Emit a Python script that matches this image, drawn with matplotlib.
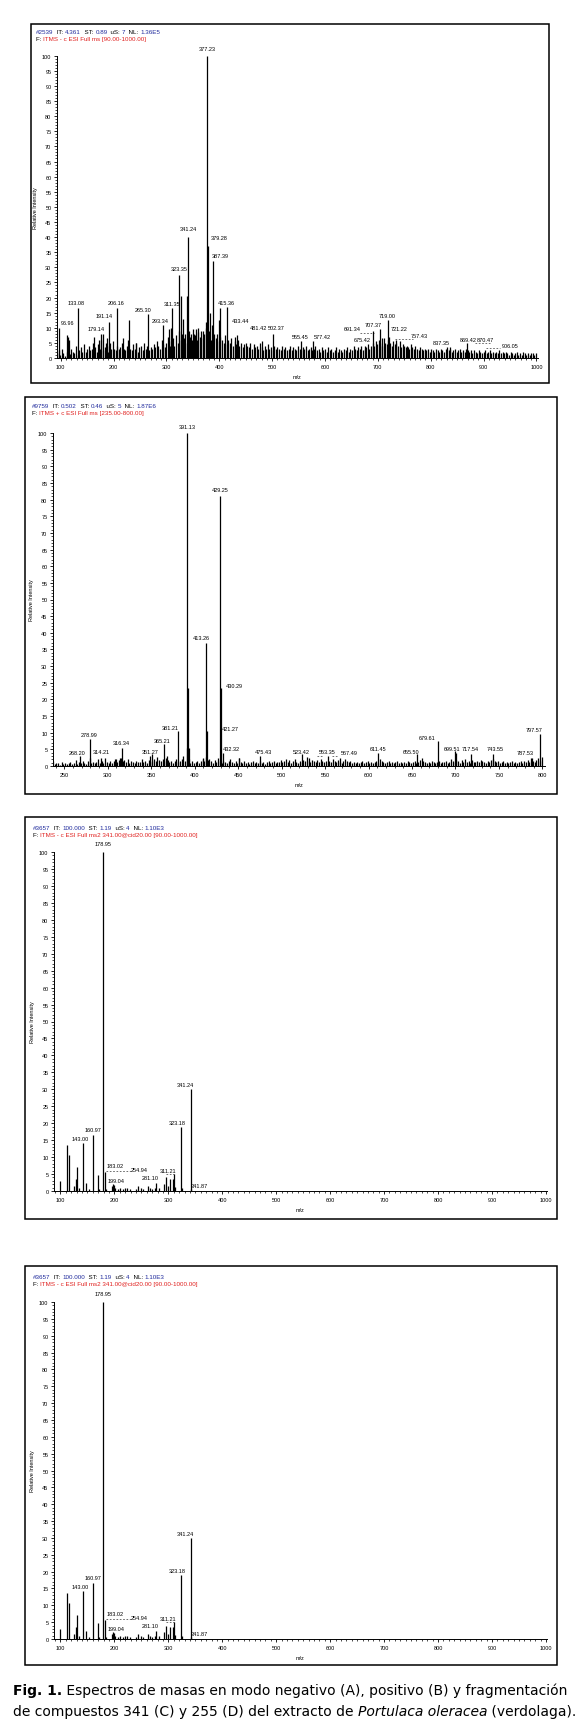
import numpy as np
import matplotlib.pyplot as plt
from matplotlib.patches import Rectangle
from matplotlib.ticker import MultipleLocator

plt.rcParams['font.family'] = ['Liberation Sans', 'DejaVu Sans']

W, H = 585, 1731
SMALL = 4.0
HEAD = 4.5
BLUE = "#1f2a9c"
RED = "#e0201e"

# ---------------- A : ESI negative, full scan ----------------
a_head1 = [("#2539", BLUE), ("  IT: ", "k"), ("4.361", BLUE), ("  ST: ", "k"), ("0.89", BLUE),
           ("  uS: ", "k"), ("7", BLUE), ("  NL: ", "k"), ("1.36E5", BLUE)]
a_head2 = [("F: ", "k"), ("ITMS - c ESI Full ms [90.00-1000.00]", RED)]
# baseline grass, one value every 3 m/z starting at 93
a_noise_start, a_noise_step = 93, 3
a_noise = [1.5, 2.5, 1, 3, 1.5, 0.8, 2, 7, 1.2, 3, 2, 1.5, 4, 1, 2.5, 3.5, 2, 4.5, 2, 3,
           4, 2.5, 3, 5, 3.5, 2, 4.5, 3, 6, 2.5, 3.5, 5, 2, 4, 3, 5.5, 3, 2.5, 4, 3,
           3.5, 5, 3, 2.5, 4, 6, 3, 2.5, 4.5, 3, 5, 2, 3.5, 4, 2.5, 5, 3, 4, 2.5, 3.5,
           3, 4.5, 3.5, 5.5, 4, 3, 6, 4.5, 3.5, 5, 7, 4, 5.5, 6.5, 4, 7.5, 5, 9, 6, 8,
           6.5, 8, 5, 9, 7, 6, 9.5, 7.5, 6, 8.5, 7, 9, 6.5, 8, 10, 7, 9, 6, 11, 8,
           6.5, 8, 5.5, 7, 6, 5, 7.5, 4.5, 6, 5, 6.5, 4, 5.5, 4.5, 6, 4, 5, 3.5, 4.5, 5,
           4, 3.5, 5, 3, 4.5, 3.5, 4, 3, 5, 3.5, 2.5, 4, 3, 4.5, 3, 3.5, 2.5, 4, 3, 3.5,
           3, 2.5, 4, 3, 3.5, 2.5, 3, 4, 2.5, 3.5, 3, 2.5, 4, 3, 2.5, 3.5, 3, 4, 2.5, 3,
           3.5, 2.5, 3, 4, 2.5, 3, 2, 3.5, 2.5, 3, 2, 3.5, 2.5, 3, 2, 2.5, 3.5, 2, 3, 2.5,
           2, 3, 2.5, 3.5, 2, 3, 2.5, 4, 3, 2.5, 3.5, 3, 4, 2.5, 3, 3.5, 4.5, 3, 4, 5,
           4, 5.5, 4.5, 6, 5, 4, 6.5, 5, 4.5, 6, 5, 4, 5.5, 4.5, 5, 4, 5.5, 3.5, 4.5, 4,
           3.5, 4, 3, 4.5, 3.5, 3, 4, 3, 2.5, 3.5, 3, 2.5, 3, 2.5, 3, 2, 3, 2.5, 2, 3,
           2.5, 2, 3, 2.5, 2, 3, 3.5, 2.5, 3, 2, 2.5, 3, 2, 2.5, 3, 2, 2.5, 2, 3, 2.5,
           2, 2.5, 1.5, 2.5, 2, 1.5, 2.5, 2, 1.5, 2, 2.5, 1.5, 2, 2.5, 1.5, 2, 1.5, 2, 1.5, 2.5,
           1.5, 2, 1.5, 2, 1.5, 1, 2, 1.5, 1, 1.5, 2, 1, 1.5, 1, 2, 1.5, 1, 1.5, 1, 1.5,
           1.5, 1, 1.5]
a_mz = [96.96, 111, 115, 133.08, 163, 172, 176, 179.14, 188, 191.14, 193, 206.16, 217, 229,
        243, 265.30, 293.34, 305, 308, 311.35, 323.35, 327, 331, 338, 341.24, 346, 352, 356,
        360, 370, 374, 377.23, 379.28, 383, 387.39, 400, 402, 415.36, 430, 433.44, 481.42,
        502.37, 555.45, 577.42, 675.42, 691.34, 705, 707.37, 719.00, 721.22, 735, 757.43,
        837.35, 869.42]
a_int = [10, 7.5, 6, 16.5, 7, 6, 8, 8, 6.5, 12, 5, 16.5, 6.5, 12.5,
         5, 14.5, 11, 9.5, 10, 16.5, 27.5, 20.5, 13, 20.5, 40, 8, 8, 9.5,
         10, 9, 12, 100, 37, 15, 32, 12.5, 16.5, 16.8, 7, 7.5, 5.5,
         8, 5.5, 5.5, 4, 9, 9.5, 6.5, 12.5, 7, 6, 3.5,
         3.5, 5]
a_labels = [("96.96", 112, 11.7), ("133.08", 130, 18.5), ("179.14", 168, 9.8),
            ("191.14", 183, 13.9), ("206.16", 204, 18.3), ("265.30", 256, 16.2),
            ("293.34", 288, 12.3), ("311.35", 311, 18), ("323.35", 324, 29.7),
            ("341.24", 342, 42.7), ("377.23", 377, 102.5), ("379.28", 399, 39.8),
            ("387.39", 401, 34), ("415.36", 414, 18.5), ("433.44", 440, 12.5),
            ("481.42", 474, 10), ("502.37", 507, 10), ("555.45", 554, 7.2),
            ("577.42", 595, 7), ("691.34", 651, 9.8), ("675.42", 670, 6.2),
            ("707.37", 691, 11.1), ("719.00", 717, 14.2), ("721.22", 740, 9.7),
            ("757.43", 779, 7.5), ("837.35", 820, 5.1), ("869.42", 871, 6.2),
            ("870.47", 903, 6.2), ("906.05", 951, 4.3)]
# dashed label leaders (m/z from, m/z to, height)
a_leaders = [(666, 692, 8.4), (733, 766, 6.3), (884, 915, 5.0), (905, 932, 3.2)]

# ---------------- B : ESI positive, full scan ----------------
b_head1 = [("#9759", BLUE), ("  IT: ", "k"), ("0.502", BLUE), ("  ST: ", "k"), ("0.46", BLUE),
           ("  uS: ", "k"), ("5", BLUE), ("  NL: ", "k"), ("1.87E6", BLUE)]
b_head2 = [("F: ", "k"), ("ITMS + c ESI Full ms [235.00-800.00]", RED)]
b_noise_start, b_noise_step = 237, 2
b_noise = [1.5, 0.5, 1, 0.8, 0.4, 1.2, 0.6, 1, 0.5, 0.9, 1.3, 0.7, 1, 1.8, 0.6, 1.2, 0.8, 1.5, 1, 0.7, 1.4, 2.5, 1, 1.3, 0.8,
           1.2, 2.2, 0.9, 1.5, 1, 2.5, 1.2, 0.8, 1.6, 1, 1.4, 2, 1.1, 1.7, 2.3, 1.4, 1.8, 1.2, 2, 1, 1.5, 1.2, 0.9, 1.6, 1.1,
           1.3, 2, 1.2, 1.6, 1, 1.8, 1.2, 1.4, 2.2, 1.5, 2.8, 1.8, 1.4, 2, 1.6, 2.5, 1.8, 1.2, 1.5, 1, 1.4, 2, 1.2, 1.6, 2.2,
           3, 1.5, 5.5, 2, 1, 1.4, 0.8, 1.2, 1.6, 1, 1.4, 2, 1.6, 2.8, 1.8, 2.2, 1.5, 1, 1.8, 1.2, 2.5, 1.5, 1, 1.4, 1.2,
           1, 1.5, 2, 1.2, 0.8, 1.6, 1, 2.5, 1.2, 0.9, 1.4, 1, 1.3, 0.7, 1.1, 1.5, 0.8, 1.2, 1, 1.6, 0.9, 1.3, 0.7, 1.1, 1.4,
           0.8, 1.2, 1.5, 0.9, 1.3, 1.1, 1.7, 1.2, 1.5, 2, 1.2, 1.8, 1, 1.4, 2.2, 1.3, 1, 1.6, 1.2, 1.9, 1.4, 2.6, 1.5, 1.2, 1.8,
           1.4, 1.1, 1.7, 1.3, 2, 1.5, 1.1, 1.4, 1, 1.6, 1.2, 2.2, 1.5, 1.3, 1.8, 1.2, 1, 1.5, 2.2, 1.4, 1.1, 1.6, 1, 1.3, 0.9,
           1.2, 0.8, 1.1, 1.4, 0.9, 1.2, 1.5, 1, 1.3, 0.8, 1.2, 1.6, 1, 2, 1.4, 1.1, 0.9, 1.2, 1.5, 1, 1.3, 0.8, 1.1, 1.4, 1,
           1.2, 0.9, 1.3, 1, 1.5, 1.1, 0.8, 1.2, 1.6, 1, 1.3, 1.8, 2.5, 1.4, 1.1, 0.9, 1.3, 1, 1.5, 1.2, 0.8, 1.1, 1.4, 1, 1.3,
           1.1, 1.5, 1, 1.3, 2, 1.4, 1.2, 1.8, 1.5, 1, 1.7, 1.3, 2, 1.2, 1.5, 1, 1.8, 1.3, 1.1, 1.6, 1.2, 1.9, 1.4, 1.1, 1,
           1.4, 1.2, 1.7, 2.2, 1.5, 1.1, 1.4, 1, 1.2, 1.6, 1, 1.3, 0.9, 1.2, 1.5, 1, 1.3, 0.8, 1.2, 1.5, 1, 1.4, 1.1, 1.8, 1.3,
           2.5, 1.5, 1.2, 1.8, 2.3, 1.6, 2.7]
b_mz = [268.20, 278.99, 292, 308, 314.21, 316.34, 349, 351.27, 365.21, 368, 381.21,
        391.13, 392.1, 393.2, 409, 413.26, 414.3, 429.25, 430.29, 432.32, 451, 475.43,
        523.42, 531, 553.35, 567.49, 611.45, 655.50, 679.61, 699.51, 701, 717.54,
        743.55, 787.53, 797.57]
b_int = [3, 8, 2.5, 2, 2.5, 5.5, 3, 3.5, 6.5, 3, 10.5,
         100, 23.5, 5.5, 2.5, 37, 10.5, 81, 23.5, 4, 2.5, 3,
         3.5, 2.5, 3, 2.5, 4, 3.5, 7.5, 4.5, 4, 3.5,
         3.5, 2.5, 9.5]
b_labels = [("268.20", 265, 4.2), ("278.99", 279, 9.6), ("314.21", 293, 4.3),
            ("316.34", 316, 7), ("351.27", 349, 4.4), ("365.21", 362, 7.8),
            ("381.21", 372, 11.6), ("391.13", 391, 102), ("413.26", 408, 38.5),
            ("429.25", 429, 83), ("430.29", 446, 24.2), ("421.27", 441, 11.3),
            ("432.32", 442, 5.3), ("475.43", 479, 4.4), ("523.42", 523, 4.4),
            ("553.35", 552, 4.4), ("567.49", 578, 4.2), ("611.45", 611, 5.4),
            ("655.50", 649, 4.4), ("679.61", 667, 8.6), ("699.51", 696, 5.4),
            ("717.54", 717, 5.4), ("743.55", 746, 5.4), ("787.53", 780, 4.2),
            ("797.57", 791, 11)]
b_leaders = [(541, 548, 2.9), (558, 565, 2.9)]

# ---------------- C / D : MS2 of m/z 341 ----------------
c_head1 = [("#3657", BLUE), ("  IT: ", "k"), ("100.000", BLUE), ("  ST: ", "k"), ("1.19", BLUE),
           ("  uS: ", "k"), ("4", BLUE), ("  NL: ", "k"), ("1.10E3", BLUE)]
c_head2 = [("F: ", "k"), ("ITMS - c ESI Full ms2 341.00@cid20.00 [90.00-1000.00]", RED)]
c_mz = [100, 111.5, 116.7, 125.7, 129, 131, 134, 141, 147, 152, 160.97, 169, 172,
        178.95, 183.02, 185, 195, 197, 199.04, 201, 206, 210, 215, 220, 224, 228,
        240, 243, 250, 253, 262, 266, 270, 276, 278, 283, 292, 296, 300, 303, 308,
        310, 312, 323.18, 326, 341.24, 341.87]
c_int = [3, 13.7, 10.7, 1.5, 3.5, 7, 1, 14.3, 2.5, 0.7, 16.6, 4.8, 0.5,
         100, 5.5, 0.5, 1.5, 2, 1.8, 1, 0.5, 1, 0.7, 1, 0.8, 0.5,
         0.7, 1.5, 0.8, 0.5, 1.5, 1, 0.7, 1, 2.5, 0.8, 2.2, 4, 1.5, 3.5, 3.5,
         5, 1.2, 19, 1, 30, 0.5]
c_labels = [("143.00", 136, 15.5), ("160.97", 160, 18.2), ("178.95", 178, 102.5),
            ("183.02", 201, 7.5), ("199.04", 204, 3), ("254.94", 246, 6.4),
            ("281.10", 266, 3.9), ("311.21", 300, 6.1), ("323.18", 317, 20.3),
            ("341.24", 332, 31.4), ("341.87", 358, 1.5)]
c_leaders = [(185, 230, 5.8), (296, 310, 5.0)]

cap1 = [("Fig. 1.", "bold", "normal"),
        (" Espectros de masas en modo negativo (A), positivo (B) y fragmentación", "normal", "normal")]
cap2 = [("de compuestos 341 (C) y 255 (D) del extracto de ", "normal", "normal"),
        ("Portulaca oleracea", "normal", "italic"), (" (verdolaga).", "normal", "normal")]

fig = plt.figure(figsize=(W / 100, H / 100), dpi=100)
fig.patch.set_facecolor("white")


def box(x0, y0, x1, y1):
    fig.add_artist(Rectangle((x0 / W, 1 - y1 / H), (x1 - x0) / W, (y1 - y0) / H,
                             transform=fig.transFigure, fill=False, lw=1.1, ec="black"))


def chain(ax, x, y, pieces, size, **kw):
    s, c = pieces[0]
    t = ax.annotate(s, xy=(x, H - y), xycoords="figure pixels", color=c, fontsize=size,
                    va="bottom", ha="left", annotation_clip=False, **kw)
    for s, c in pieces[1:]:
        t = ax.annotate(s, xy=(1, 0), xycoords=t, color=c, fontsize=size,
                        va="bottom", ha="left", annotation_clip=False, **kw)


def panel(pos, xlim, major, heads, head_y, peaks, noise=None, labels=(), leaders=()):
    left, top, right, bottom = pos
    ax = fig.add_axes([left / W, 1 - bottom / H, (right - left) / W, (bottom - top) / H])
    if noise is not None:
        start, step, vals = noise
        nx = start + step * np.arange(len(vals))
        ax.vlines(nx, 0, vals, color="black", lw=0.9)
    ax.vlines(peaks[0], 0, peaks[1], color="black", lw=0.9)
    for txt, x, y in labels:
        ax.text(x, y, txt, ha="center", va="center", fontsize=SMALL)
    for x0, x1, y in leaders:
        ax.plot([x0, x1], [y, y], color="black", lw=0.4, ls=(0, (3, 3)))
    ax.set_xlim(*xlim)
    ax.set_ylim(0, 100)
    ax.set_yticks(np.arange(0, 101, 5))
    ax.yaxis.set_minor_locator(MultipleLocator(1))
    ax.xaxis.set_major_locator(MultipleLocator(major))
    ax.xaxis.set_minor_locator(MultipleLocator(10))
    ax.tick_params(which="major", length=2.5, width=0.6, labelsize=SMALL, pad=1.5)
    ax.tick_params(which="minor", length=1.3, width=0.5)
    for sp in ["top", "right"]:
        ax.spines[sp].set_visible(False)
    for sp in ["left", "bottom"]:
        ax.spines[sp].set_linewidth(0.7)
    ax.set_facecolor("none")
    ax.set_ylabel("Relative Intensity", fontsize=SMALL)
    ax.yaxis.set_label_coords(-19 / (right - left), 0.5)
    ax.set_xlabel("m/z", fontsize=SMALL)
    ax.xaxis.set_label_coords(0.5, -16 / (bottom - top))
    chain(ax, left - 21, head_y, heads[0], HEAD)
    chain(ax, left - 21, head_y + 7.5, heads[1], HEAD)
    return ax


box(31, 25, 549, 384)
box(25, 398, 557, 795)
box(25, 818, 557, 1220)
box(25, 1267, 557, 1666)

panel((57, 56.7, 538, 359), (93, 1003), 100, (a_head1, a_head2), 35,
      (a_mz, a_int), (a_noise_start, a_noise_step, a_noise), a_labels, a_leaders)
panel((53, 434, 545, 767), (237, 803), 50, (b_head1, b_head2), 409,
      (b_mz, b_int), (b_noise_start, b_noise_step, b_noise), b_labels, b_leaders)
panel((54, 853, 547, 1192), (88, 1002), 100, (c_head1, c_head2), 831,
      (c_mz, c_int), None, c_labels, c_leaders)
panel((54, 1303, 547, 1640), (88, 1002), 100, (c_head1, c_head2), 1280,
      (c_mz, c_int), None, c_labels, c_leaders)

capax = fig.add_axes([0, 0, 1, 0.02])
capax.axis("off")
for line, yy in [(cap1, 1698), (cap2, 1719)]:
    s, wgt, sty = line[0]
    t = capax.annotate(s, xy=(13, H - yy), xycoords="figure pixels", fontsize=10,
                       fontweight=wgt, fontstyle=sty, va="bottom", ha="left",
                       annotation_clip=False, family="DejaVu Sans")
    for s, wgt, sty in line[1:]:
        t = capax.annotate(s, xy=(1, 0), xycoords=t, fontsize=10, fontweight=wgt,
                           fontstyle=sty, va="bottom", ha="left",
                           annotation_clip=False, family="DejaVu Sans")

fig.savefig("out.png", dpi=100, facecolor="white")
